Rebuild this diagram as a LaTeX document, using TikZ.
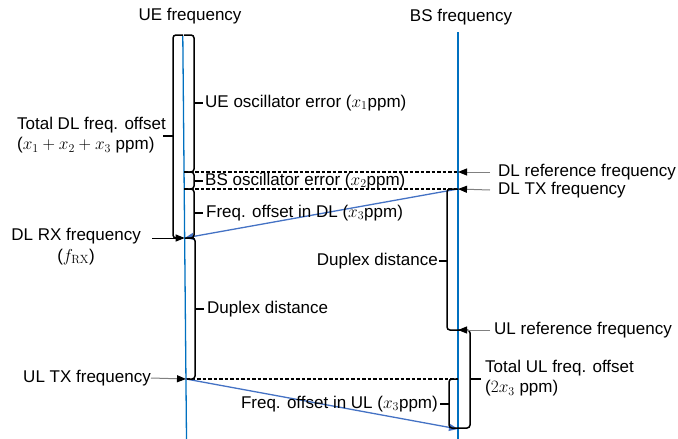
\documentclass[tikz,border=0pt]{standalone}
\usepackage{fontspec}
\setmainfont{Liberation Sans}
\setmathrm{Latin Modern Roman}
\usetikzlibrary{arrows.meta}
\definecolor{axisblue}{RGB}{0,112,192}
\definecolor{shiftblue}{RGB}{68,114,196}
\begin{document}
\begin{tikzpicture}[x=1pt,y=-1pt,
  font=\fontsize{17}{20.5}\selectfont,
  lbl/.style={inner sep=0pt},
  axis/.style={draw=axisblue,line width=1.3pt},
  brc/.style={draw=black,line width=1.5pt,rounded corners=3pt},
  tipln/.style={draw=black,line width=1.5pt},
  refline/.style={draw=black,line width=1.1pt,dash pattern=on 3.5pt off 2pt},
  freqshift/.style={draw=shiftblue,line width=1.3pt,-{Triangle[length=9pt,width=7pt]}},
  pointer/.style={draw=gray,line width=1pt,-{Triangle[length=9pt,width=7pt,black]}}]
\useasboundingbox (0,0) rectangle (678,439);

% frequency axes
\coordinate (ueTop) at (182.8,36);
\coordinate (ueBot) at (186.5,439);
\coordinate (bsTop) at (458,32);
\coordinate (bsBot) at (458,439);
\draw[axis] (ueTop) -- (ueBot);
\draw[axis] (bsTop) -- (bsBot);
\node[lbl] (ueTitle) at (190,16) {UE frequency};
\node[lbl] (bsTitle) at (461,17) {BS frequency};

% points on the UE axis
\coordinate (ueDLref) at (184.1,172);
\coordinate (ueDLtx) at (184.3,189);
\coordinate (ueRX) at (184.7,238);
\coordinate (ueTX) at (186,379);
% points on the BS axis
\coordinate (bsDLref) at (458,172);
\coordinate (bsDLtx) at (458,189);
\coordinate (bsULref) at (458,330);
\coordinate (bsUL) at (458,429);

% reference levels
\draw[refline] (ueDLref) -- (bsDLref);
\draw[refline] (ueDLtx) -- (bsDLtx);
\draw[refline] (ueTX) -- (bsDLtx |- ueTX);

% frequency shifts
\draw[freqshift] (bsDLtx) -- (ueRX);
\draw[freqshift] (ueTX) -- (bsUL);

% braces beside the UE axis
\draw[brc] (183,35) -- (173,35) -- (173,238) -- (181,238);
\draw[tipln] (173,136) -- (163,136);
\draw[brc] (184,35) -- (194,35) -- (194,172) -- (184,172);
\draw[tipln] (194,103) -- (203,103);
\draw[brc] (184,172) -- (194,172) -- (194,189) -- (184,189);
\draw[tipln] (194,181) -- (203,181);
\draw[brc] (185,189) -- (194,189) -- (194,238) -- (185,238);
\draw[tipln] (194,213) -- (203,213);
\draw[brc] (186,238) -- (195,238) -- (195,379) -- (187,379);
\draw[tipln] (195,309) -- (204,309);

% braces beside the BS axis
\draw[brc] (458,189) -- (447,189) -- (447,330) -- (458,330);
\draw[tipln] (447,261) -- (439,261);
\draw[brc] (458,330) -- (470,330) -- (470,428) -- (458,428);
\draw[tipln] (470,379) -- (481,379);
\draw[brc] (458,379) -- (449,379) -- (449,428) -- (458,428);
\draw[tipln] (449,404) -- (440,404);

% labels of the braces
\node[lbl,anchor=west] (ueOsc) at (205,103) {UE oscillator error ($x_1$ppm)};
\node[lbl,anchor=east,align=left] (totDL) at (166,135) {Total DL freq. offset\\($x_1+x_2+x_3$ ppm)};
\node[lbl,anchor=west] (bsOsc) at (205,181) {BS oscillator error ($x_2$ppm)};
\node[lbl,anchor=west] (offDL) at (206,213) {Freq. offset in DL ($x_3$ppm)};
\node[lbl,anchor=west] (dupL) at (207,309) {Duplex distance};
\node[lbl,anchor=east] (dupR) at (438,261) {Duplex distance};
\node[lbl,anchor=west,align=left] (totUL) at (485,378) {Total UL freq. offset\\($2x_3$ ppm)};
\node[lbl,anchor=east] (offUL) at (438,404) {Freq. offset in UL ($x_3$ppm)};

% named frequencies with pointers
\node[lbl,anchor=west] (dlRef) at (498,172) {DL reference frequency};
\node[lbl,anchor=west] (dlTx) at (498,190) {DL TX frequency};
\node[lbl,anchor=west] (ulRef) at (494,330) {UL reference frequency};
\node[lbl,anchor=north east,align=center] (dlRx) at (141,228) {DL RX frequency\\($f_{\mathrm{RX}}$)};
\node[lbl,anchor=east] (ulTx) at (151,378) {UL TX frequency};
\draw[pointer] (dlRef.west) ++(-8,0) coordinate (p1) (p1) -- (bsDLref);
\draw[pointer] (dlTx.west) ++(-8,0) coordinate (p2) (p2) -- (bsDLtx);
\draw[pointer] (ulRef.west) ++(-4,0) coordinate (p3) (p3) -- (bsULref);
\draw[pointer,draw=black] (152,238) coordinate (p4) -- (ueRX);
\draw[pointer] (ulTx.east) -- (ueTX);
\end{tikzpicture}
\end{document}
